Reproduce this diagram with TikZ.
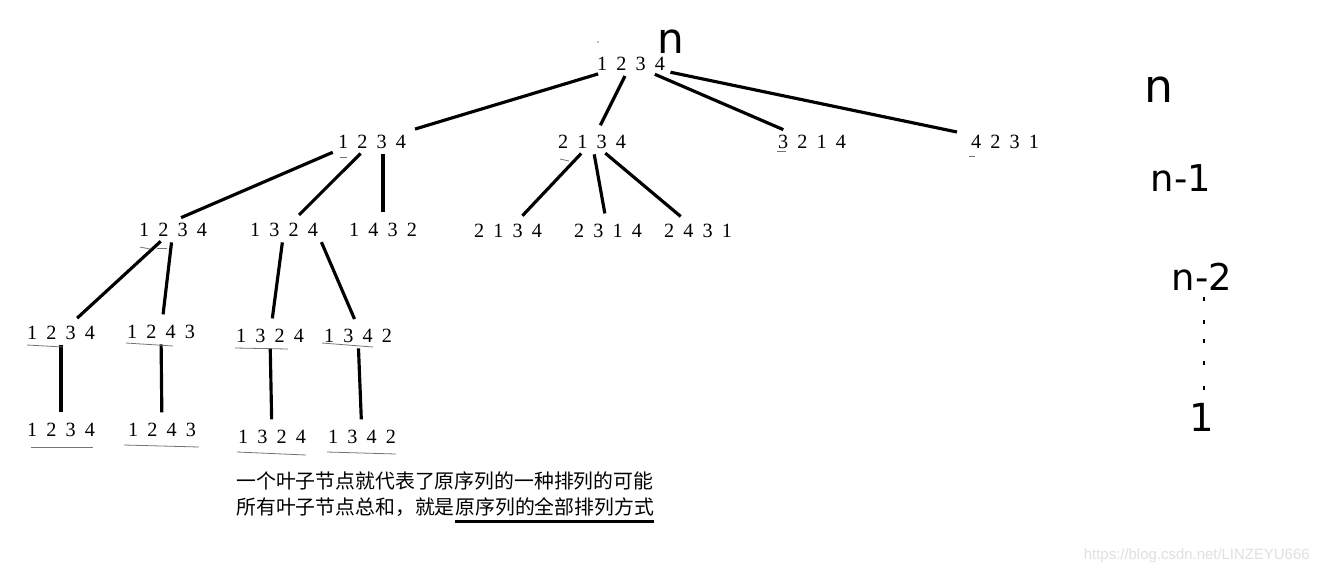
\documentclass[tikz,border=0pt]{standalone}
\usepackage{fontspec}
\setmainfont{Liberation Serif}
\newfontfamily\cjkfont{Noto Sans CJK SC}
\newfontfamily\handfont{DejaVu Sans}
\newfontfamily\urlfont{Liberation Sans}
\newcommand{\permfont}{\fontsize{11.5}{13}\selectfont\spaceskip=5.2pt\relax}

\begin{document}
\begin{tikzpicture}[x=0.02cm,y=-0.02cm,
    perm/.style={inner sep=1pt,font=\permfont},
    link/.style={line width=1.8pt,shorten <=2pt,shorten >=5pt},
    faint/.style={black!55,line width=0.45pt},
    hand/.style={inner sep=0pt,font=\handfont\fontsize{#1}{#1}\selectfont},
    note/.style={inner sep=0pt,font=\cjkfont\fontsize{11.3}{13}\selectfont}]
    \fill[white] (0,0) rectangle (1319,576);
    \useasboundingbox (0,0) rectangle (1319,576);

    % levels of the tree
    \node[perm] (R) at (631,64) {1 2 3 4};
    \node[perm] (A1) at (372,142) {1 2 3 4};
    \node[perm] (A2) at (592,142) {2 1 3 4};
    \node[perm] (A3) at (812,142) {3 2 1 4};
    \node[perm] (A4) at (1005,142) {4 2 3 1};
    \node[perm] (B1) at (173,230) {1 2 3 4};
    \node[perm] (B2) at (284,230) {1 3 2 4};
    \node[perm] (B3) at (383,230) {1 4 3 2};
    \node[perm] (B4) at (508,231) {2 1 3 4};
    \node[perm] (B5) at (608,231) {2 3 1 4};
    \node[perm] (B6) at (698,231) {2 4 3 1};
    \node[perm] (C1) at (61,333) {1 2 3 4};
    \node[perm] (C2) at (161,332) {1 2 4 3};
    \node[perm] (C3) at (270,336) {1 3 2 4};
    \node[perm] (C4) at (358,336) {1 3 4 2};
    \node[perm] (D1) at (61,430) {1 2 3 4};
    \node[perm] (D2) at (162,430) {1 2 4 3};
    \node[perm] (D3) at (272,437) {1 3 2 4};
    \node[perm] (D4) at (362,437) {1 3 4 2};

    % edges
    \draw[link,shorten >=8pt] (R) -- (A1);
    \draw[link] (R) -- (A2);
    \draw[link] (R) -- (A3);
    \draw[link,shorten >=7pt] (R) -- (A4);
    \draw[link] (A1.south west) -- (B1.north);
    \draw[link] (A1) -- (B2);
    \draw[link] (A1.south -| B3) -- (B3);
    \foreach \t in {B4,B5,B6}
        \draw[link] (A2) -- (\t);
    \draw[link] (B1) -- (C1);
    \draw[link] (B1) -- (C2);
    \draw[link] (B2) -- (C3);
    \draw[link] (B2.south east) -- (C4.north);
    \foreach \i in {1,2,3,4}
        \draw[link] (C\i) -- (D\i);

    % pen marks under the numbers
    \draw[faint] (27,345) -- (63,347);
    \draw[faint] (126,343) -- (173,346);
    \draw[faint] (235,348) -- (288,349);
    \draw[faint] (322,343) -- (373,347);
    \draw[faint] (31,447) -- (93,447);
    \draw[faint] (124,445) -- (199,447);
    \draw[faint] (237,452) -- (306,455);
    \draw[faint] (327,452) -- (396,454);
    \draw[faint] (340,157) -- (347,157);
    \draw[faint] (560,159) -- (569,161);
    \draw[faint] (777,151) -- (786,151);
    \draw[faint] (969,156) -- (975,156);
    \draw[faint] (140,247) -- (150,249);
    \draw[faint] (157,248) -- (167,248);
    \fill[black!50] (598,42) circle (0.8);

    % handwriting
    \node[hand=24] (n0) at (671,42) {n};
    \node[hand=26] (h1) at (1159,90) {n};
    \node[hand=21] (h2) at (1181,178) {n-1};
    \node[hand=21] (h3) at (1202,277) {n-2};
    \foreach \y in {299,322,341,363,388}
        \draw[line width=1.5pt] (1204,\y-2) -- (1204,\y+2);
    \node[hand=22] (h4) at (1202,417) {1};

    % note
    \node[note,anchor=west] (T1) at (236,481) {一个叶子节点就代表了原序列的一种排列的可能};
    \node[note,anchor=west] (T2) at (236,507) {所有叶子节点总和，就是};
    \node[note,anchor=base west] (T3) at (T2.base east) {原序列的全部排列方式};
    \draw[line width=1.4pt] ([yshift=-3pt]T3.south west) -- ([yshift=-3pt]T3.south east);

    \node[inner sep=0pt,anchor=east,text=black!12,font=\urlfont\fontsize{8.5}{10}\selectfont] (wm) at (1310,556) {https://blog.csdn.net/LINZEYU666};
\end{tikzpicture}
\end{document}
